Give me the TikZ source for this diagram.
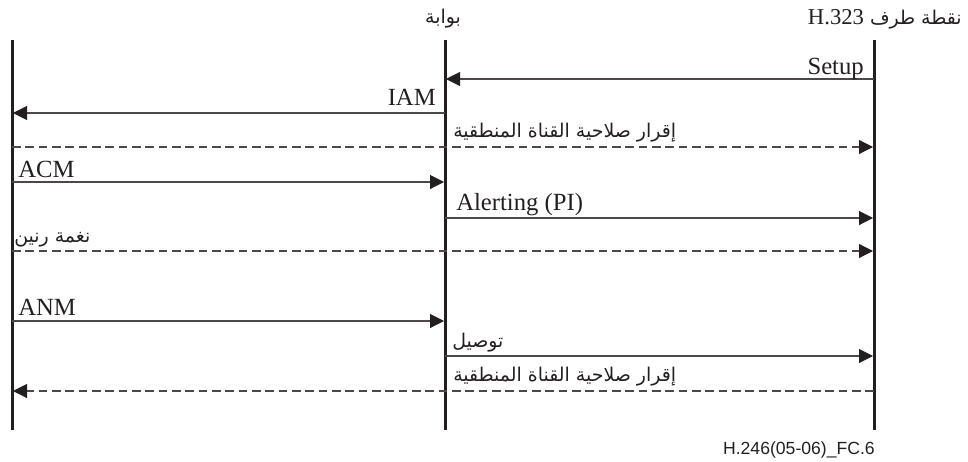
\documentclass[tikz,border=0pt]{standalone}
\usepackage{fontspec}
\setmainfont{Liberation Serif}
\newfontfamily\arabicfont[Script=Arabic]{DejaVu Sans}
\newfontfamily\footfont{Liberation Sans}
\TeXXeTstate=1
\usetikzlibrary{arrows.meta}
\definecolor{lifec}{HTML}{231F20}
\definecolor{msgc}{HTML}{4D4848}
\tikzset{
  lifeline/.style={line width=2.25pt, draw=lifec},
  msg/.style={line width=0.8pt, draw=msgc, -{Triangle[length=10.5pt,width=10.5pt,fill=lifec,color=lifec]}},
  dmsg/.style={msg, dash pattern=on 6.5pt off 3.5pt},
  lat/.style={inner sep=0pt, font=\fontsize{18.5}{20}\selectfont, text=lifec},
  arb/.style={inner sep=0pt, font=\arabicfont\fontsize{14.2}{16}\selectfont, text=lifec},
  foot/.style={inner sep=0pt, font=\footfont\fontsize{13.2}{15}\selectfont, text=lifec}
}
\begin{document}
\begin{tikzpicture}[x=0.75pt,y=-0.75pt]
\useasboundingbox (0,0) rectangle (968,461);
% lifelines
\coordinate (Ltop) at (12,40);   \coordinate (Lbot) at (12,430);
\coordinate (Mtop) at (445,40);  \coordinate (Mbot) at (445,430);
\coordinate (Rtop) at (874,40);  \coordinate (Rbot) at (874,430);
\draw[lifeline] (Ltop) -- (Lbot);
\draw[lifeline] (Mtop) -- (Mbot);
\draw[lifeline] (Rtop) -- (Rbot);
% headers
\node[arb, anchor=base] (hgw) at (443,23) {\beginR بوابة\endR};
\node[arb, anchor=base east] (hep) at (962,24) {\beginR نقطة طرف \beginL{\rmfamily\fontsize{17}{18}\selectfont H.323}\endL\endR};
% message end points
\coordinate (m1a) at (874,79);  \coordinate (m1b) at (446,79);
\coordinate (m2a) at (445,113); \coordinate (m2b) at (13,113);
\coordinate (m3a) at (12,147);  \coordinate (m3b) at (873,147);
\coordinate (m4a) at (12,182);  \coordinate (m4b) at (444,182);
\coordinate (m5a) at (445,218); \coordinate (m5b) at (873,218);
\coordinate (m6a) at (12,251);  \coordinate (m6b) at (873,251);
\coordinate (m7a) at (12,321);  \coordinate (m7b) at (444,321);
\coordinate (m8a) at (445,356); \coordinate (m8b) at (873,356);
\coordinate (m9a) at (874,391); \coordinate (m9b) at (13,391);
\draw[msg] (m1a) -- (m1b);
\draw[msg] (m2a) -- (m2b);
\draw[dmsg] (m3a) -- (m3b);
\draw[msg] (m4a) -- (m4b);
\draw[msg] (m5a) -- (m5b);
\draw[dmsg] (m6a) -- (m6b);
\draw[msg] (m7a) -- (m7b);
\draw[msg] (m8a) -- (m8b);
\draw[dmsg] (m9a) -- (m9b);
% labels
\node[lat, anchor=base east] (l1) at (864,74) {Setup};
\node[lat, anchor=base east] (l2) at (436,105) {IAM};
\node[arb, anchor=base west] (l3) at (453,137) {\beginR إقرار صلاحية القناة المنطقية\endR};
\node[lat, anchor=base west] (l4) at (18,177) {ACM};
\node[lat, anchor=base west] (l5) at (456,210) {Alerting (PI)};
\node[arb, anchor=base west] (l6) at (14,242) {\beginR نغمة رنين\endR};
\node[lat, anchor=base west] (l7) at (18,315) {ANM};
\node[arb, anchor=base west] (l8) at (452,347) {\beginR توصيل\endR};
\node[arb, anchor=base west] (l9) at (453,381) {\beginR إقرار صلاحية القناة المنطقية\endR};
% footer
\node[foot, anchor=base east] (fc) at (875,454) {H.246(05-06)\_FC.6};
\end{tikzpicture}
\end{document}
